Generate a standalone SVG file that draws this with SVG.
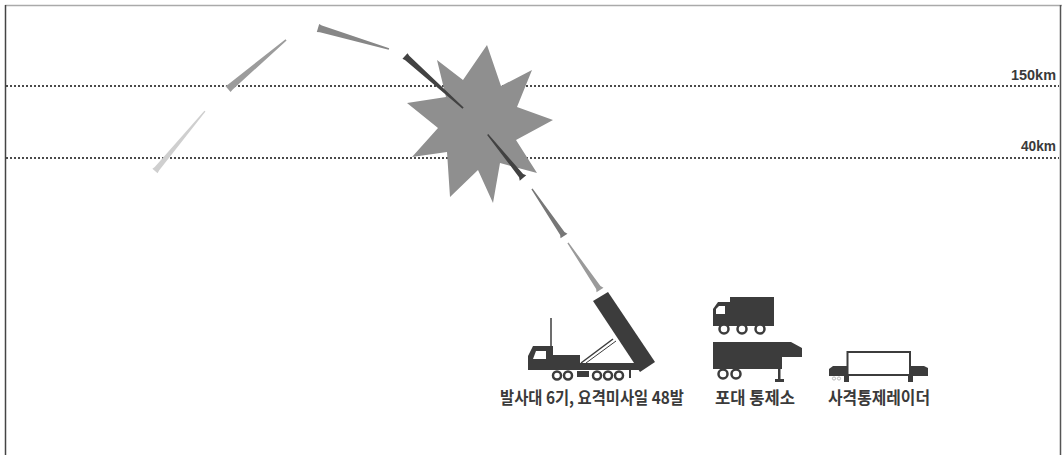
<svg xmlns="http://www.w3.org/2000/svg" width="1062" height="455" viewBox="0 0 1062 455">
  <style>
    .lbl { font-family: "Noto Sans CJK KR", "Liberation Sans", sans-serif; font-weight: bold; font-size: 17px; fill: #3a3a3a; }
    .alt { font-family: "Liberation Sans", "Noto Sans", sans-serif; font-weight: bold; font-size: 15.5px; fill: #3a3a3a; }
    .dots { stroke: #4a4a4a; stroke-width: 2.2; stroke-dasharray: 2 2; fill: none; }
    .dark { fill: #3c3c3c; }
    .wheel { fill: #fff; stroke: #3c3c3c; stroke-width: 2.5; }
  </style>

  <rect x="0" y="0" width="1062" height="455" fill="#fff"/>

  <!-- frame -->
  <g id="frame">
    <line x1="5" y1="5.5" x2="1062" y2="5.5" stroke="#aaa" stroke-width="1.5"/>
    <line x1="5.5" y1="5" x2="5.5" y2="455" stroke="#444" stroke-width="1.5"/>
    <line x1="1060.5" y1="5" x2="1060.5" y2="455" stroke="#555" stroke-width="1.5"/>
  </g>

  <!-- altitude lines -->
  <g id="altitudes">
    <line class="dots" x1="6" y1="86" x2="1059" y2="86"/>
    <line class="dots" x1="6" y1="158" x2="1059" y2="158"/>
    <text class="alt" x="1011" y="79.5" textLength="45" lengthAdjust="spacingAndGlyphs">150km</text>
    <text class="alt" x="1021" y="150.5" textLength="35" lengthAdjust="spacingAndGlyphs">40km</text>
  </g>

  <!-- interception burst -->
  <g id="burst">
    <polygon fill="#8f8f8f" points="437,60 463,80 487,45 501,86 532,70 517,107 553,120 516,140 537,173 500,163 493,203 478,170 450,197 447,152 412,157 438,128 407,103 446,97"/>
  </g>

  <!-- missile trails: tail at origin, nose along +x -->
  <g id="missiles">
    <polygon fill="#cfcfcf" transform="translate(155,171) rotate(-50.2)" points="0,-3.4 3,-2.8 78,-0.7 78,0.7 3,2.8 0,3.4"/>
    <polygon fill="#9c9c9c" transform="translate(228,89) rotate(-40.2)" points="0,-4 3,-3.4 76,-0.8 76,0.8 3,3.4 0,4"/>
    <polygon fill="#878787" transform="translate(318,28) rotate(16.5)" points="0,-4.2 3,-3.5 74,-0.8 74,0.8 3,3.5 0,4.2"/>
    <polygon fill="#424242" transform="translate(405,56) rotate(41.9)" points="0,-3.8 3,-3 78,-0.9 78,0.9 3,3 0,3.8"/>
    <polygon fill="#424242" transform="translate(523,178) rotate(-129.1)" points="0,-4.2 3,-2.6 56,-0.7 56,0.7 3,2.6 0,4.2"/>
    <polygon fill="#777" transform="translate(564,236) rotate(-124.2)" points="0,-4.2 3,-2.6 57,-0.7 57,0.7 3,2.6 0,4.2"/>
    <polygon fill="#9a9a9a" transform="translate(600,290) rotate(-124.2)" points="0,-4.2 3,-2.6 57,-0.7 57,0.7 3,2.6 0,4.2"/>
  </g>

  <!-- launcher truck -->
  <g id="launcher">
    <line x1="551" y1="318" x2="551" y2="349" stroke="#3c3c3c" stroke-width="1.5"/>
    <line x1="581" y1="363" x2="613" y2="339" stroke="#3c3c3c" stroke-width="1.5"/>
    <line x1="586" y1="363" x2="616" y2="341" stroke="#3c3c3c" stroke-width="1"/>
    <polygon class="dark" points="593,301 608,292 655,362 640,372"/>
    <path class="dark" d="M528,371 L528,356 L533,346 L553,346 L553,355 L580,355 L580,363 L640,363 L640,370 L528,370 Z"/>
    <polygon fill="#fff" points="533,359 536,351 546,351 546,359"/>
    <circle class="wheel" cx="557" cy="375.5" r="4"/>
    <circle class="wheel" cx="568" cy="375.5" r="4"/>
    <rect class="dark" x="577" y="371" width="12" height="6"/>
    <circle class="wheel" cx="597" cy="375.5" r="4"/>
    <circle class="wheel" cx="608" cy="375.5" r="4"/>
    <circle class="wheel" cx="619" cy="375.5" r="4"/>
    <rect class="dark" x="629" y="370" width="2" height="8"/>
    <text class="lbl" x="500" y="404" textLength="184" lengthAdjust="spacingAndGlyphs">발사대 6기, 요격미사일 48발</text>
  </g>

  <!-- battery control post -->
  <g id="control-post">
    <rect class="dark" x="730" y="297" width="44" height="29"/>
    <path class="dark" d="M713,326 L713,309 L718,302 L731,302 L731,326 Z"/>
    <polygon fill="#fff" points="716,314 716,309 719,306 725,306 725,314"/>
    <circle class="wheel" cx="724" cy="329" r="4.5"/>
    <circle class="wheel" cx="742" cy="329" r="4.5"/>
    <circle class="wheel" cx="760" cy="329" r="4.5"/>
    <path class="dark" d="M713,342 L791,342 L802,348 L802,357 L782,357 L782,369 L713,369 Z"/>
    <circle class="wheel" cx="723" cy="374" r="4.5"/>
    <circle class="wheel" cx="736" cy="374" r="4.5"/>
    <rect class="dark" x="778" y="369" width="2.5" height="11"/>
    <rect class="dark" x="775" y="379" width="9" height="3"/>
    <text class="lbl" x="715" y="404" textLength="80" lengthAdjust="spacingAndGlyphs">포대 통제소</text>
  </g>

  <!-- fire control radar -->
  <g id="radar">
    <rect x="847.5" y="352" width="62.5" height="23" fill="#fff" stroke="#3c3c3c" stroke-width="2"/>
    <path class="dark" d="M829,376 L829,369 L833,366 L847,366 L847,376 Z"/>
    <path class="dark" d="M910,366 L924,366 L928,368 L928,376 L910,376 Z"/>
    <rect class="dark" x="844" y="375" width="5" height="7"/>
    <rect class="dark" x="908" y="375" width="5" height="7"/>
    <circle cx="834" cy="378.5" r="1.6" fill="none" stroke="#aaa" stroke-width="0.8"/>
    <circle cx="839" cy="378.5" r="1.6" fill="none" stroke="#aaa" stroke-width="0.8"/>
    <text class="lbl" x="828" y="404" textLength="102" lengthAdjust="spacingAndGlyphs">사격통제레이더</text>
  </g>
</svg>
